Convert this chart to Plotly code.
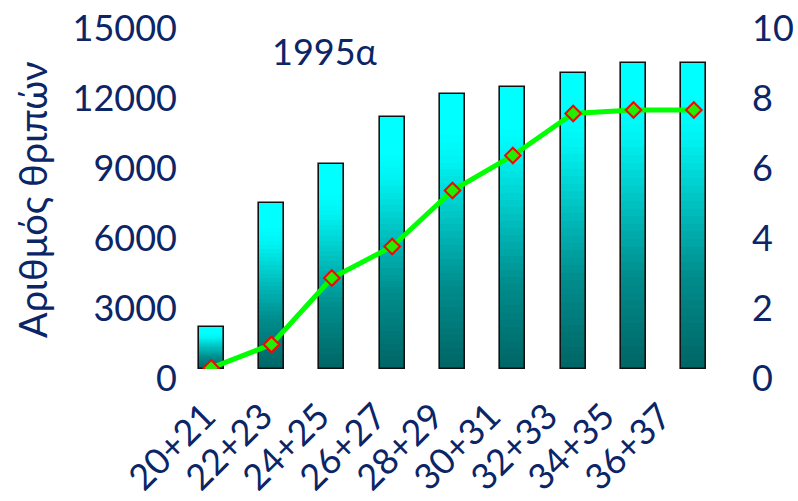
import plotly.graph_objects as go

categories = ["20+21", "22+23", "24+25", "26+27", "28+29", "30+31", "32+33", "34+35", "36+37"]
thrips = [1800, 7100, 8800, 10800, 11800, 12100, 12700, 13100, 13100]
line_vals = [0.03, 0.7, 2.6, 3.5, 5.1, 6.1, 7.3, 7.4, 7.4]

left_ticks = [0, 3000, 6000, 9000, 12000, 15000]
right_ticks = [0, 2, 4, 6, 8, 10]

NAVY = "#0B2566"
FONT = "Lato, 'Open Sans', sans-serif"

# gradient stops (bottom -> top)
stops = [(0.0, (0, 100, 100)), (0.3, (0, 140, 140)), (0.55, (0, 195, 195)),
         (0.75, (0, 242, 242)), (0.85, (0, 255, 255)), (1.0, (0, 255, 255))]


def grad(t):
    for (t0, c0), (t1, c1) in zip(stops[:-1], stops[1:]):
        if t0 <= t <= t1:
            f = (t - t0) / (t1 - t0) if t1 > t0 else 0
            c = [round(a + (b - a) * f) for a, b in zip(c0, c1)]
            return f"rgb({c[0]},{c[1]},{c[2]})"
    return "rgb(0,255,255)"


N = 40
BW = 0.41
fig = go.Figure()
for k in range(N):
    fig.add_trace(go.Bar(
        x=categories,
        y=[v / N for v in thrips],
        base=[v * k / N for v in thrips],
        width=BW,
        marker=dict(color=grad((k + 0.5) / N), line=dict(width=0)),
        showlegend=False, hoverinfo="skip",
    ))
# outline
fig.add_trace(go.Bar(
    x=categories, y=thrips, width=BW,
    marker=dict(color="rgba(0,0,0,0)", line=dict(color="#111111", width=1.6)),
    showlegend=False, name="Αριθμός θριπών",
))

fig.add_trace(go.Scatter(
    x=categories, y=line_vals, yaxis="y2", mode="lines+markers",
    line=dict(color="#00FF00", width=5),
    marker=dict(symbol="diamond", size=12, color="#22EE00",
                line=dict(color="#FF0000", width=2)),
    showlegend=False,
))

# invisible helper trace for the label axis
fig.add_trace(go.Scatter(x=list(range(len(categories))), y=[None] * len(categories),
                         xaxis="x2", yaxis="y", mode="markers", showlegend=False,
                         hoverinfo="skip"))

L, R, T, B = 176, 798 - 729, 19, 501 - 369
plot_w = 798 - L - R
lab_sp = 57.0
lab_start = 205.0
r0 = (L - lab_start) / lab_sp
r1 = r0 + plot_w / lab_sp

tickfont = dict(family=FONT, size=36, color=NAVY)

fig.update_layout(
    width=798, height=501,
    margin=dict(l=L, r=R, t=T, b=B, autoexpand=False),
    paper_bgcolor="white", plot_bgcolor="white",
    barmode="overlay",
    bargap=0,
    xaxis=dict(type="category", showticklabels=False, showgrid=False, zeroline=False,
               showline=False, ticks=""),
    xaxis2=dict(overlaying="x", anchor="y", side="bottom", range=[r0, r1],
                tickmode="array", tickvals=list(range(len(categories))), ticktext=categories,
                tickangle=-45, tickfont=tickfont, showgrid=False, zeroline=False,
                showline=False, ticks="", ticklabelstandoff=18),
    yaxis=dict(range=[0, 15000], tickmode="array", tickvals=left_ticks,
               ticktext=[str(v) for v in left_ticks],
               tickfont=tickfont, showgrid=False, zeroline=False, showline=False,
               ticks="", ticklabelshift=9, ticklabelstandoff=-2),
    yaxis2=dict(range=[0, 10], tickmode="array", tickvals=right_ticks,
                overlaying="y", side="right", tickfont=tickfont, showgrid=False,
                zeroline=False, showline=False, ticks="", ticklabelshift=9,
                ticklabelstandoff=22),
    annotations=[
        dict(text="1995α", xref="paper", yref="paper",
             x=(325 - L) / plot_w, y=(369 - 51) / 350, xanchor="center", yanchor="middle",
             showarrow=False, font=dict(family=FONT, size=36, color=NAVY)),
        dict(text="Αριθμός θριπών", xref="paper", yref="paper",
             x=(32 - L) / plot_w, y=(369 - 200) / 350, xanchor="center", yanchor="middle",
             textangle=-90, showarrow=False, font=dict(family=FONT, size=38, color=NAVY)),
    ],
)

fig.write_html("out.html")
